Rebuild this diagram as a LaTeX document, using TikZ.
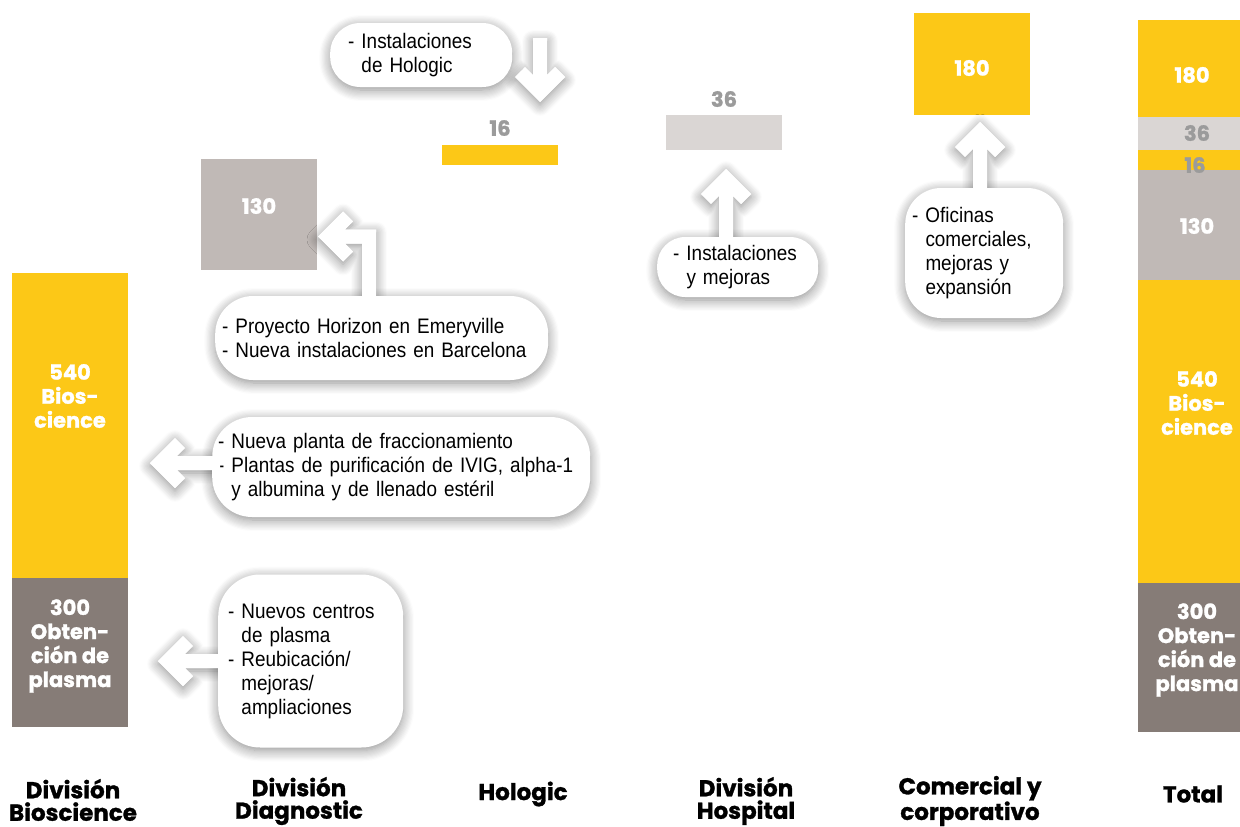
\documentclass[tikz,border=0pt]{standalone}
\usepackage{fontspec}
\setmainfont{Liberation Sans}
\newfontfamily\pop{Poppins}[BoldFeatures={FakeBold=1.2}]
\newfontfamily\cond[FakeStretch=0.9]{Liberation Sans}
\usetikzlibrary{shadows.blur}
\definecolor{gy}{HTML}{FCC817}
\definecolor{dg}{HTML}{867C77}
\definecolor{lg}{HTML}{C0B9B6}
\definecolor{vlg}{HTML}{DAD6D4}
\definecolor{lab}{HTML}{9B9B9B}
\newcommand\garrow[5]{%
  \fill[#5, shift={(#2,#3)}, rotate=#1] (0,0) -- (-25,-25) -- (-34.9,-15.1) -- (-26.8,-7) -- (-#4,-7) -- (-#4,7) -- (-26.8,7) -- (-34.9,15.1) -- (-25,25) -- cycle;}
\newcommand\bentarrow[1]{%
  \fill[#1] (318,236.5) -- (343,211.5) -- (352.9,221.4) -- (344.8,229.5) -- (376,229.5) -- (376,300) -- (362,300) -- (362,243.5) -- (344.8,243.5) -- (352.9,251.6) -- (343,261.5) -- cycle;}
\tikzset{
  bar/.style={rectangle, inner sep=0, anchor=north west, draw=none},
  barlab/.style={font=\pop\bfseries\fontsize{21}{24}\selectfont, text=white, align=center, inner sep=0},
  graylab/.style={font=\pop\bfseries\fontsize{21}{24}\selectfont, text=lab, inner sep=0},
  cat/.style={font=\pop\bfseries\fontsize{23}{22.5}\selectfont, align=center, inner sep=0},
  shd/.style={blur shadow={shadow blur steps=10, shadow blur radius=11pt, shadow xshift=0pt, shadow yshift=-3pt, shadow opacity=45}},
  cbox/.style={rectangle, fill=white, anchor=west, align=left, inner ysep=0, font=\cond\fontsize{21}{24}\selectfont, shd},
  wfill/.style={white},
  wshd/.style={white, shd},
}
\begin{document}
\begin{tikzpicture}[x=1pt, y=-1pt]
\useasboundingbox (0,0) rectangle (1240,827);
\clip (0,0) rectangle (1240,827);
% bars
\node[bar, fill=gy, minimum width=116, minimum height=305] (b1y) at (12,273) {};
\node[bar, fill=dg, minimum width=116, minimum height=149] (b1g) at (12,578) {};
\node[bar, fill=lg, minimum width=116, minimum height=111] (dgn) at (201,159) {};
\node[bar, fill=gy, minimum width=116, minimum height=20] (hol) at (442,145) {};
\node[bar, fill=vlg, minimum width=116, minimum height=35] (hos) at (666,115) {};
\node[bar, fill=gy, minimum width=116, minimum height=102] (com) at (914,13) {};
\node[bar, fill=gy, minimum width=116, minimum height=97] (t1) at (1138,20) {};
\node[bar, fill=vlg, minimum width=116, minimum height=33] (t2) at (1138,117) {};
\node[bar, fill=gy, minimum width=116, minimum height=20] (t3) at (1138,150) {};
\node[bar, fill=lg, minimum width=116, minimum height=110] (t4) at (1138,170) {};
\node[bar, fill=gy, minimum width=116, minimum height=303] (t5) at (1138,280) {};
\node[bar, fill=dg, minimum width=116, minimum height=149] (t6) at (1138,583) {};
% bar labels
\node[barlab] (l1) at (70,396) {540\\Bios-\\cience};
\node[barlab] (l2) at (70,646) {300\\Obten-\\ción de\\plasma};
\node[barlab] (l3) at (259,206) {130};
\node[graylab] (l4) at (500,128) {16};
\node[graylab] (l5) at (724,99) {36};
\node[barlab] (l6) at (972,68) {180};
\node[barlab] (m1) at (1192,75) {180};
\node[graylab] (m2) at (1197,133) {36};
\node[graylab] (m3) at (1195,165) {16};
\node[barlab] (m4) at (1197,226) {130};
\node[barlab] (m5) at (1197,403) {540\\Bios-\\cience};
\node[barlab] (m6) at (1197,650) {300\\Obten-\\ción de\\plasma};
% categories
\node[cat] (k1) at (73,800) {División\\Bioscience};
\node[cat] (k2) at (299,801) {División\\Diagnostic};
\node[cat] (k3) at (523,794) {Hologic};
\node[cat] (k4) at (746,801) {División\\Hospital};
\node[cat] (k5) at (970,801) {Comercial y\\corporativo};
\node[cat] (k6) at (1193,794) {Total};
% arrows (with shadow)
\garrow{-90}{540}{102}{64}{wshd}
\garrow{90}{726}{169}{74}{wshd}
\garrow{90}{980}{122}{70}{wshd}
\garrow{180}{150}{463}{70}{wshd}
\garrow{180}{158}{661}{66}{wshd}
\bentarrow{wshd}
% callouts
\node[cbox, rounded corners=30pt, minimum width=182, minimum height=64, inner xsep=18, text width=146] (c1) at (330,55) {- Instalaciones\\\phantom{-}\ de Hologic};
\node[cbox, rounded corners=38pt, minimum width=333, minimum height=84, inner xsep=7, text width=319] (c2) at (215,338) {- Proyecto Horizon en Emeryville\\- Nueva instalaciones en Barcelona};
\node[cbox, rounded corners=40pt, minimum width=378, minimum height=100, inner xsep=6, text width=366] (c3) at (212,467) {- Nueva planta de fraccionamiento\\- Plantas de purificación de IVIG, alpha-1\\\phantom{-}\ y albumina y de llenado estéril};
\node[cbox, rounded corners=42pt, minimum width=185, minimum height=173, inner xsep=10, text width=165] (c4) at (218,661) {- Nuevos centros\\\phantom{-}\ de plasma\\- Reubicación/\\\phantom{-}\ mejoras/\\\phantom{-}\ ampliaciones};
\node[cbox, rounded corners=28pt, minimum width=161, minimum height=60, inner xsep=16, text width=129] (c5) at (657,267) {- Instalaciones\\\phantom{-}\ y mejoras};
\node[cbox, rounded corners=36pt, minimum width=158, minimum height=130, inner xsep=7, text width=144] (c6) at (905,253) {- Oficinas\\\phantom{-}\ comerciales,\\\phantom{-}\ mejoras y\\\phantom{-}\ expansión};
% arrows again, plain, over the callout shadows
\garrow{-90}{540}{102}{64}{wfill}
\garrow{90}{726}{169}{74}{wfill}
\garrow{90}{980}{122}{70}{wfill}
\garrow{180}{150}{463}{70}{wfill}
\garrow{180}{158}{661}{66}{wfill}
\bentarrow{wfill}
\end{tikzpicture}
\end{document}
